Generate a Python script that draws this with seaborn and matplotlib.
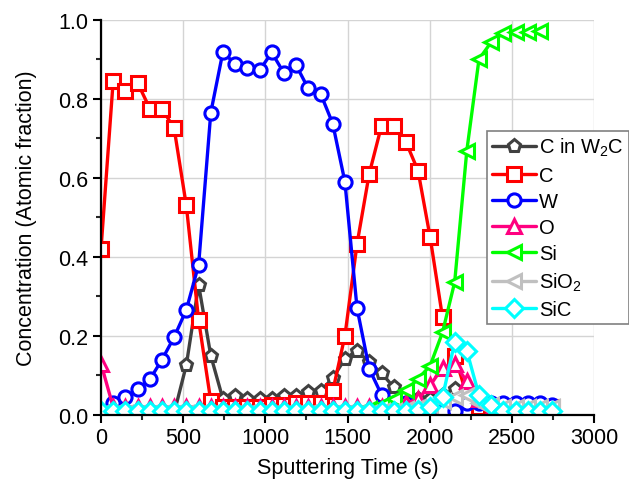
import numpy as np
import pandas as pd
import matplotlib
matplotlib.use("Agg")
import matplotlib.pyplot as plt
import seaborn as sns
from matplotlib.ticker import MultipleLocator

# sputtering time (s), one value per profile step
time_s = [0, 74, 148, 223, 297, 371, 445, 519, 594, 668, 742, 816, 890, 965,
          1039, 1113, 1187, 1261, 1336, 1410, 1484, 1558, 1632, 1707, 1781,
          1855, 1929, 2003, 2078, 2152, 2226, 2300, 2374, 2449, 2523, 2597,
          2671, 2745]

c_w2c = [0.005, 0.005, 0.005, 0.005, 0.005, 0.005, 0.005, 0.126, 0.329, 0.15,
         0.04, 0.049, 0.04, 0.04, 0.04, 0.049, 0.049, 0.057, 0.061, 0.093,
         0.142, 0.163, 0.133, 0.106, 0.07, 0.05, 0.04, 0.04, 0.05, 0.065,
         0.04, 0.015, 0.005, 0.005, 0.005, 0.005, 0.005, 0.005]
c_free = [0.42, 0.845, 0.82, 0.84, 0.775, 0.775, 0.725, 0.53, 0.24, 0.035,
          0.02, 0.02, 0.02, 0.02, 0.025, 0.025, 0.03, 0.03, 0.03, 0.06,
          0.20, 0.433, 0.61, 0.732, 0.730, 0.691, 0.618, 0.449, 0.247, 0.15,
          0.05, 0.02, 0.02, 0.02, 0.02, 0.02, 0.02, 0.02]
w = [0.01, 0.03, 0.045, 0.065, 0.09, 0.14, 0.197, 0.266, 0.38, 0.765,
     0.919, 0.887, 0.879, 0.872, 0.917, 0.865, 0.885, 0.826, 0.813, 0.737,
     0.59, 0.27, 0.117, 0.051, 0.03, 0.03, 0.025, 0.02, 0.01, 0.01,
     0.03, 0.03, 0.03, 0.03, 0.03, 0.03, 0.03, 0.025]
o = [0.13, 0.02, 0.02, 0.02, 0.02, 0.02, 0.02, 0.02, 0.02, 0.02,
     0.02, 0.02, 0.02, 0.02, 0.02, 0.02, 0.02, 0.02, 0.02, 0.02,
     0.02, 0.02, 0.02, 0.02, 0.02, 0.03, 0.04, 0.075, 0.12, 0.13,
     0.085, 0.04, 0.01, 0.01, 0.01, 0.01, 0.01, 0.01]
si = [np.nan] * 21 + [0.005, 0.015, 0.025, 0.04, 0.062, 0.091, 0.125, 0.209,
                      0.336, 0.669, 0.90, 0.943, 0.966, 0.97, 0.97, 0.972] + [np.nan]
sio2 = [0.005] * 23 + [0.01, 0.01, 0.015, 0.02, 0.025, 0.035, 0.045, 0.05,
                       0.03, 0.025, 0.02, 0.02, 0.02, 0.02, 0.02]
sic = [0.01] * 26 + [0.012, 0.02, 0.045, 0.184, 0.162, 0.05, 0.025,
                     0.01, 0.01, 0.01, 0.01, 0.01]

series = [
    ("C in W$_2$C", c_w2c, "#404040", "p"),
    ("C", c_free, "#FF0000", "s"),
    ("W", w, "#0000FF", "o"),
    ("O", o, "#FF0080", "^"),
    ("Si", si, "#00FF00", "<"),
    ("SiO$_2$", sio2, "#C0C0C0", "<"),
    ("SiC", sic, "#00FFFF", "D"),
]

sns.set_style("white")
plt.rcParams["font.family"] = ["Liberation Sans", "DejaVu Sans"]
plt.rcParams["mathtext.default"] = "regular"
plt.rcParams["text.color"] = "black"
plt.rcParams["axes.labelcolor"] = "black"

fig = plt.figure(figsize=(6.29, 4.89), dpi=100)
ax = fig.add_axes([0.1606, 0.1493, 0.7838, 0.8084])

for name, vals, col, mk in series:
    df = pd.DataFrame({"t": time_s, "y": vals}).dropna()
    sns.lineplot(data=df, x="t", y="y", ax=ax, color=col, marker=mk,
                 markersize=9.5 if mk != "D" else 9, markerfacecolor="white",
                 markeredgecolor=col, markeredgewidth=2.2, linewidth=2.4,
                 label=name, sort=False)

ax.set_xlim(0, 3000)
ax.set_ylim(0, 1.0)
ax.xaxis.set_major_locator(MultipleLocator(500))
ax.xaxis.set_minor_locator(MultipleLocator(250))
ax.yaxis.set_major_locator(MultipleLocator(0.2))
ax.yaxis.set_minor_locator(MultipleLocator(0.1))
ax.yaxis.set_major_formatter(matplotlib.ticker.FormatStrFormatter("%.1f"))
ax.grid(True, which="major", color="#d4d4d4", linewidth=1)
ax.set_axisbelow(True)

for s in ["top", "right"]:
    ax.spines[s].set_visible(False)
for s in ["left", "bottom"]:
    ax.spines[s].set_color("black")
    ax.spines[s].set_linewidth(1.6)

ax.tick_params(which="major", direction="out", length=6, width=1.5,
               labelsize=15.5, colors="black", left=True, bottom=True, pad=3)
ax.tick_params(which="minor", direction="out", length=3.5, width=1.5,
               left=True, bottom=True)

ax.set_xlabel("Sputtering Time (s)", fontsize=15.5, labelpad=6, color="black")
ax.set_ylabel("Concentration (Atomic fraction)", fontsize=15.5, labelpad=15,
              color="black")

leg = ax.legend(loc="upper left", bbox_to_anchor=(0.783, 0.718),
                borderaxespad=0, fontsize=14.5, frameon=True, fancybox=False,
                edgecolor="#808080", framealpha=1, handlelength=2.2,
                handletextpad=0.15, labelspacing=0.36, borderpad=0.25,
                labelcolor="black")
leg.get_frame().set_linewidth(1.2)

fig.savefig("out.png", dpi=100)
